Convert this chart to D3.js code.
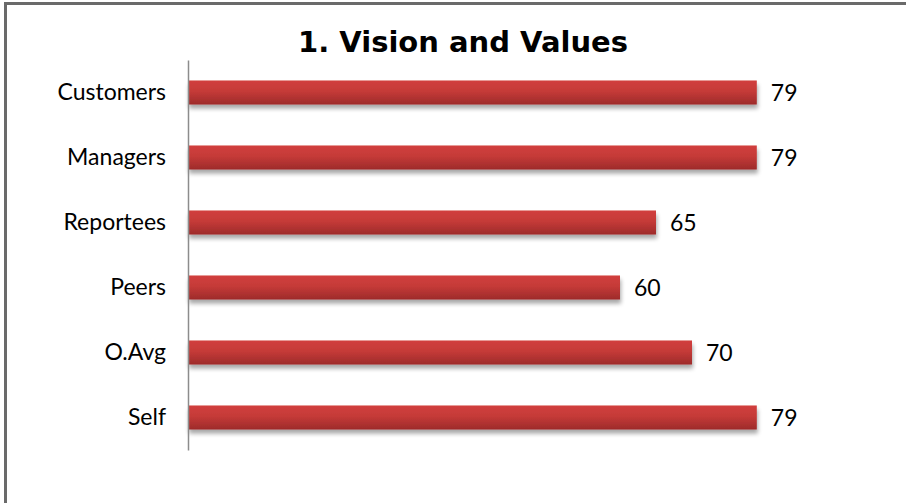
<!DOCTYPE html>
<html>
<head>
<meta charset="utf-8">
<script src="https://cdn.jsdelivr.net/npm/d3@7"></script>
<style>
  html, body { margin: 0; padding: 0; background: #fff; }
  svg { display: block; }
</style>
</head>
<body>
<svg id="chart" width="906" height="503"></svg>
<script>
// Scores per rater group
const categories = ["Customers", "Managers", "Reportees", "Peers", "O.Avg", "Self"];
const scores = [79, 79, 65, 60, 70, 79];
const title = "1. Vision and Values";

const svg = d3.select("#chart");
const W = 906, H = 503;

// Frame around the chart area
svg.append("rect")
  .attr("x", 5.5).attr("y", 3.5)
  .attr("width", W + 20).attr("height", H + 20)
  .attr("fill", "#fff")
  .attr("stroke", "#6a6a6a")
  .attr("stroke-width", 3);

const defs = svg.append("defs");
const grad = defs.append("linearGradient")
  .attr("id", "barFill").attr("x1", 0).attr("y1", 0).attr("x2", 0).attr("y2", 1);
grad.append("stop").attr("offset", "0%").attr("stop-color", "#d13f3d");
grad.append("stop").attr("offset", "45%").attr("stop-color", "#c53a38");
grad.append("stop").attr("offset", "100%").attr("stop-color", "#9d2b2a");

const shadow = defs.append("filter").attr("id", "barShadow")
  .attr("x", "-5%").attr("y", "-30%").attr("width", "110%").attr("height", "180%");
shadow.append("feGaussianBlur").attr("in", "SourceAlpha").attr("stdDeviation", 2.2).attr("result", "blur");
shadow.append("feOffset").attr("in", "blur").attr("dx", 1).attr("dy", 4).attr("result", "off");
shadow.append("feComponentTransfer").attr("in", "off").attr("result", "soft")
  .append("feFuncA").attr("type", "linear").attr("slope", 0.35);
const merge = shadow.append("feMerge");
merge.append("feMergeNode").attr("in", "soft");
merge.append("feMergeNode").attr("in", "SourceGraphic");

const x = d3.scaleLinear().domain([0, 100]).range([188, 908]);
const y = d3.scaleBand().domain(categories).range([60, 450]).paddingInner(0.63).paddingOuter(0.315);

// Title
svg.append("text")
  .attr("x", 463).attr("y", 52)
  .attr("text-anchor", "middle")
  .style("font-family", "'DejaVu Sans', Verdana, sans-serif")
  .style("font-weight", "bold")
  .style("font-size", "29px")
  .attr("fill", "#000")
  .text(title);

// Bars
svg.append("g").selectAll("rect")
  .data(categories)
  .join("rect")
  .attr("x", x(0))
  .attr("y", d => y(d))
  .attr("width", (d, i) => x(scores[i]) - x(0))
  .attr("height", y.bandwidth())
  .attr("fill", "url(#barFill)")
  .attr("filter", "url(#barShadow)");

// Category axis
const yAxis = d3.axisLeft(y).tickSize(0).tickPadding(22);
const axisG = svg.append("g")
  .attr("transform", `translate(${x(0)},0)`)
  .call(yAxis);
axisG.select(".domain").attr("stroke", "#8c8c8c").attr("stroke-width", 1.5);
axisG.selectAll("text")
  .style("font-family", "Lato, 'Open Sans', sans-serif")
  .style("font-size", "23px")
  .attr("fill", "#000");

// Value labels
svg.append("g").selectAll("text")
  .data(categories)
  .join("text")
  .attr("x", (d, i) => x(scores[i]) + 14)
  .attr("y", d => y(d) + y.bandwidth() / 2)
  .attr("dy", "0.36em")
  .style("font-family", "Lato, 'Open Sans', sans-serif")
  .style("font-size", "23px")
  .attr("fill", "#000")
  .text((d, i) => scores[i]);
</script>
</body>
</html>
